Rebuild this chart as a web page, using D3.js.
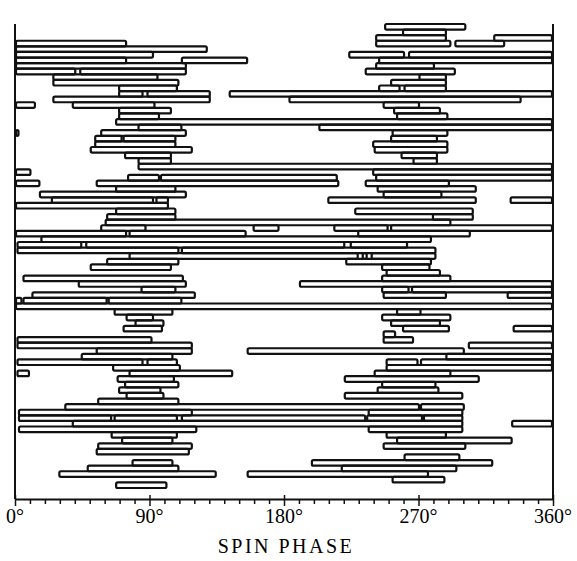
<!DOCTYPE html>
<html>
<head>
<meta charset="utf-8">
<script src="https://cdn.jsdelivr.net/npm/d3@7"></script>
<style>
  body { margin: 0; background: #fff; }
  svg { display: block; }
</style>
</head>
<body>
<svg id="chart" width="577" height="561"></svg>
<script>
// one entry per row (top to bottom), each row lists its [start, end] phase intervals in degrees
const phaseRows = [
  [[247, 302]],
  [[259, 289]],
  [[241, 289], [320, 360]],
  [[0, 75], [241, 292], [294, 328]],
  [[0, 129]],
  [[0, 93], [223, 261], [263, 360]],
  [[0, 75], [111, 156], [243, 360]],
  [[0, 115], [241, 281]],
  [[0, 41], [43, 115], [234, 295]],
  [[25, 96], [270, 289]],
  [[25, 110], [251, 289]],
  [[69, 109], [243, 258], [260, 289]],
  [[69, 86], [88, 131], [143, 360]],
  [[25, 131], [183, 339]],
  [[0, 14], [38, 94], [246, 271]],
  [[69, 105], [253, 285]],
  [[69, 97], [255, 290]],
  [[67, 360]],
  [[82, 112], [203, 360]],
  [[0, 3], [57, 115], [252, 290]],
  [[53, 72], [72, 108], [251, 283]],
  [[53, 108], [239, 290]],
  [[50, 119], [240, 290]],
  [[73, 105], [258, 283]],
  [[82, 105], [266, 283]],
  [[82, 360]],
  [[0, 11], [239, 360]],
  [[75, 97], [97, 216], [241, 360]],
  [[0, 17], [54, 217], [234, 291]],
  [[67, 108], [242, 309]],
  [[16, 115], [246, 286]],
  [[24, 93], [94, 103], [209, 309], [331, 360]],
  [[0, 103]],
  [[67, 108], [227, 307]],
  [[61, 108], [279, 307]],
  [[60, 292]],
  [[57, 88], [159, 177], [213, 250], [251, 360]],
  [[0, 75], [76, 155], [229, 305]],
  [[17, 279]],
  [[1, 45], [47, 221], [224, 263]],
  [[1, 110], [111, 282]],
  [[76, 230], [232, 236], [238, 282]],
  [[61, 110], [221, 279]],
  [[50, 105], [245, 278]],
  [[248, 285]],
  [[5, 113], [245, 292]],
  [[42, 115], [190, 360]],
  [[84, 108], [245, 264], [265, 360]],
  [[11, 121], [246, 289], [329, 360]],
  [[0, 5], [5, 62], [62, 112]],
  [[0, 360]],
  [[66, 106], [255, 272]],
  [[74, 93], [245, 292]],
  [[80, 100], [251, 285]],
  [[72, 99], [259, 291], [333, 360]],
  [[246, 255]],
  [[1, 92], [246, 267]],
  [[1, 119], [303, 360]],
  [[54, 119], [155, 301]],
  [[44, 106], [288, 360]],
  [[1, 86], [88, 109], [248, 270], [271, 360]],
  [[65, 111], [248, 360]],
  [[1, 10], [76, 146], [240, 292]],
  [[68, 107], [220, 311]],
  [[73, 110], [245, 282]],
  [[69, 98], [242, 284]],
  [[74, 100], [220, 300]],
  [[55, 110]],
  [[33, 271], [271, 301]],
  [[2, 119], [236, 300]],
  [[2, 65], [66, 109], [111, 235], [235, 273], [273, 300]],
  [[38, 300], [332, 360]],
  [[2, 122], [236, 300]],
  [[64, 109], [248, 289]],
  [[71, 106], [255, 333]],
  [[55, 119], [246, 302]],
  [[54, 117]],
  [[260, 298]],
  [[78, 106], [198, 320]],
  [[48, 110], [218, 296]],
  [[29, 135], [155, 277]],
  [[252, 288]],
  [[67, 102]]
];

const labelTicks = [0, 90, 180, 270, 360];
const tickLabels = ["0°", "90°", "180°", "270°", "360°"];
const axisTitle = "SPIN PHASE";

document.addEventListener('DOMContentLoaded', function () {
    drawChart();
});

function drawChart() {
    const svg = d3.select('#chart');
    const left = 15, right = 553, top = 24, barsBottom = 488, axisY = 499;

    const xScale = d3.scaleLinear()
        .domain([0, 360])
        .range([left, right]);
    const yScale = d3.scaleBand()
        .domain(d3.range(phaseRows.length))
        .range([top, barsBottom])
        .padding(0);

    // flatten rows into bar records
    const bars = [];
    phaseRows.forEach((row, i) => {
        row.forEach(seg => bars.push({ row: i, start: seg[0], end: seg[1] }));
    });

    svg.append('g')
        .selectAll('rect')
        .data(bars)
        .enter()
        .append('rect')
        .attr('x', d => xScale(d.start) + 1)
        .attr('y', d => yScale(d.row))
        .attr('width', d => Math.max(2, xScale(d.end) - xScale(d.start) - 2))
        .attr('height', yScale.bandwidth())
        .attr('rx', 1.5)
        .attr('fill', 'none')
        .attr('stroke', '#111')
        .attr('stroke-width', 2.2);

    // side frame lines
    svg.append('line')
        .attr('x1', left).attr('x2', left)
        .attr('y1', top).attr('y2', axisY)
        .attr('stroke', '#111').attr('stroke-width', 2);
    svg.append('line')
        .attr('x1', right).attr('x2', right)
        .attr('y1', top).attr('y2', axisY)
        .attr('stroke', '#111').attr('stroke-width', 2);

    // bottom axis: small ticks every 10 degrees hanging below, longer ones at 90 degree marks
    const xAxis = d3.axisBottom(xScale)
        .tickValues(d3.range(0, 361, 10))
        .tickSizeInner(5)
        .tickSizeOuter(0)
        .tickFormat('');
    const ax = svg.append('g')
        .attr('transform', `translate(0,${axisY})`)
        .call(xAxis);
    ax.select('.domain').attr('stroke', '#111').attr('stroke-width', 2);
    ax.selectAll('.tick line').attr('stroke', '#111').attr('stroke-width', 1.5);
    ax.selectAll('.tick line')
        .filter(d => d % 90 === 0)
        .attr('y1', -4)
        .attr('y2', 7);

    svg.append('g')
        .selectAll('text')
        .data(labelTicks)
        .enter()
        .append('text')
        .attr('x', d => xScale(d))
        .attr('y', axisY + 24)
        .attr('text-anchor', 'middle')
        .style('font-family', '"Liberation Serif", "DejaVu Serif", serif')
        .style('font-size', '20px')
        .text((d, i) => tickLabels[i]);

    svg.append('text')
        .attr('x', (left + right) / 2 + 2)
        .attr('y', axisY + 54)
        .attr('text-anchor', 'middle')
        .style('font-family', '"Liberation Serif", "DejaVu Serif", serif')
        .style('font-size', '20px')
        .style('letter-spacing', '2.5px')
        .text(axisTitle);
}
</script>
</body>
</html>
